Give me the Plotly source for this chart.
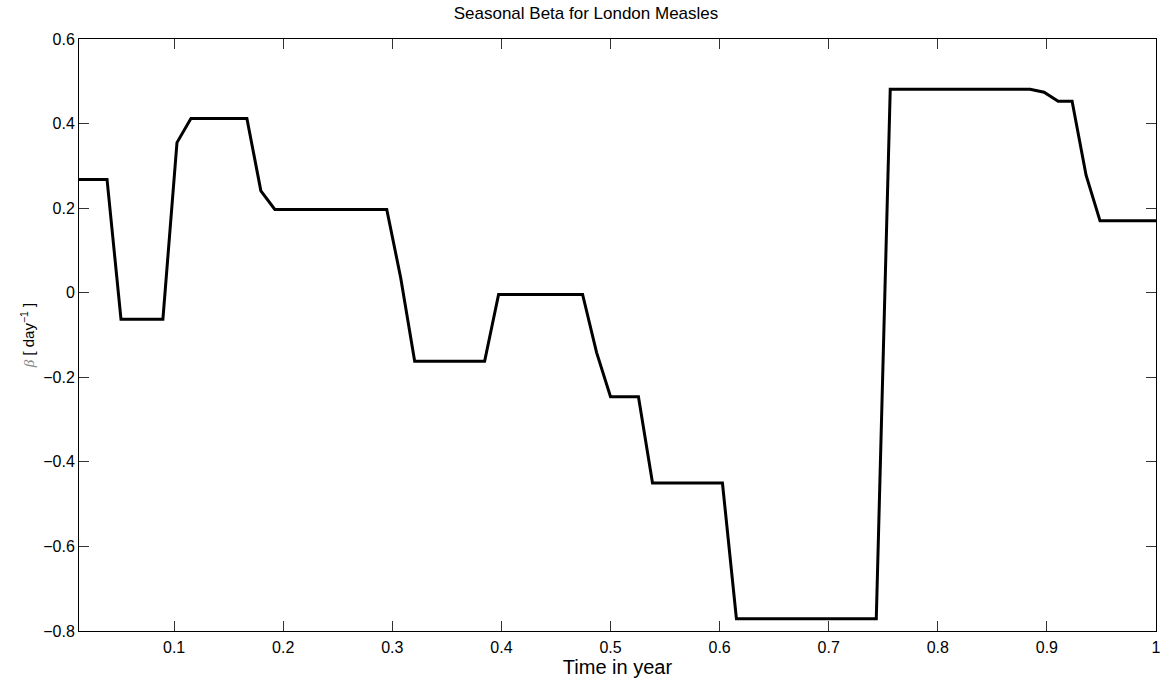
import plotly.graph_objects as go

# Seasonal transmission rate, piecewise-linear over the year (corner points only)
time_in_year = [0.0128, 0.0385, 0.0513, 0.0897, 0.1026, 0.1154, 0.1667, 0.1795,
                0.1923, 0.2949, 0.3077, 0.3205, 0.3846, 0.3974, 0.4744, 0.4872,
                0.5000, 0.5256, 0.5385, 0.6026, 0.6154, 0.7436, 0.7564, 0.8846,
                0.8974, 0.9103, 0.9231, 0.9359, 0.9487, 1.0000]
beta = [0.268, 0.268, -0.063, -0.063, 0.355, 0.412, 0.412, 0.241,
        0.197, 0.197, 0.035, -0.162, -0.162, -0.004, -0.004, -0.141,
        -0.246, -0.246, -0.450, -0.450, -0.771, -0.771, 0.481, 0.481,
        0.474, 0.453, 0.453, 0.278, 0.170, 0.170]

x_ticks = [0.1, 0.2, 0.3, 0.4, 0.5, 0.6, 0.7, 0.8, 0.9, 1.0]
x_tick_text = ["0.1", "0.2", "0.3", "0.4", "0.5", "0.6", "0.7", "0.8", "0.9", "1"]
y_ticks = [-0.8, -0.6, -0.4, -0.2, 0, 0.2, 0.4, 0.6]
y_tick_text = ["\u22120.8", "\u22120.6", "\u22120.4", "\u22120.2", "0", "0.2", "0.4", "0.6"]

font_family = "Liberation Sans, Arial, Helvetica, sans-serif"

fig = go.Figure()
fig.add_trace(go.Scatter(
    x=time_in_year, y=beta, mode="lines",
    line=dict(color="black", width=3),
    showlegend=False, hoverinfo="x+y",
))

axis_common = dict(
    showgrid=False, zeroline=False,
    showline=True, linecolor="black", linewidth=1, mirror="ticks",
    ticks="inside", ticklen=10, tickwidth=1, tickcolor="#333333",
    tickfont=dict(family=font_family, size=16, color="black"),
)

fig.update_layout(
    width=1172, height=683,
    margin=dict(l=79, r=11, t=39, b=52),
    paper_bgcolor="white", plot_bgcolor="white",
    title=dict(text="Seasonal Beta for London Measles", x=0.5, xanchor="center",
               y=1 - 13 / 683, yanchor="middle",
               font=dict(family=font_family, size=17, color="black")),
    xaxis=dict(range=[0.0128, 1.0], tickvals=x_ticks, ticktext=x_tick_text,
               ticklabelstandoff=2,
               title=dict(text="Time in year", standoff=0,
                          font=dict(family=font_family, size=20, color="black")),
               **axis_common),
    yaxis=dict(range=[-0.8, 0.6], tickvals=y_ticks, ticktext=y_tick_text,
               ticklabelstandoff=0,
               title=dict(text="<span style='color:#888888;font-family:\"Liberation Serif\", serif'><i>\u03b2</i></span> [ day<sup>\u22121</sup> ]",
                          standoff=4,
                          font=dict(family=font_family, size=15, color="black")),
               **axis_common),
)

fig.write_html("out.html")
